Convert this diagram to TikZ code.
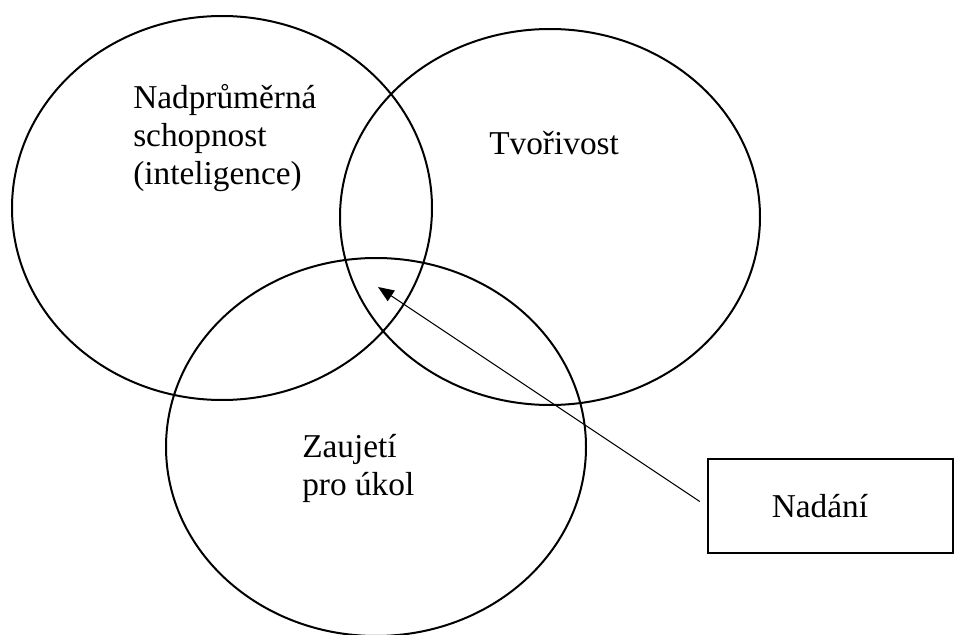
\documentclass[tikz,border=0pt]{standalone}
\usepackage{fontspec}
\setmainfont{Liberation Serif}
\usetikzlibrary{arrows.meta}

\tikzset{
    ring/.style={line width=1.5pt},
    lbl/.style={anchor=north west, inner sep=0pt, align=left, font=\fontsize{25}{28.5}\selectfont},
    giftbox/.style={draw, line width=1.5pt, minimum width=183.75pt, minimum height=70.5pt, inner sep=0pt, font=\fontsize{25}{28.5}\selectfont}
}

\begin{document}
\begin{tikzpicture}[x=0.75pt, y=-0.75pt]
    \useasboundingbox (0,0) rectangle (954,635);

    % Three circles
    \draw[ring] (222,208) ellipse [x radius=210, y radius=192];
    \draw[ring] (550,217) ellipse [x radius=210, y radius=188];
    \draw[ring] (376,447) ellipse [x radius=210, y radius=189];

    % Labels
    \node[lbl] (ability) at (133,84) {Nadprůměrná\\schopnost\\(inteligence)};
    \node[lbl] (creativity) at (489,131) {Tvořivost};
    \node[lbl] (commitment) at (302,434) {Zaujetí\\pro úkol};

    % Box and arrow to the middle
    \node[giftbox] (nadani) at (830,506) {Nadání\hspace*{15pt}};
    \coordinate (middle) at (378,287);
    \draw[line width=0.75pt, -{Triangle[length=12pt, width=9.5pt]}, shorten <=6pt] (nadani.west) -- (middle);
\end{tikzpicture}
\end{document}
